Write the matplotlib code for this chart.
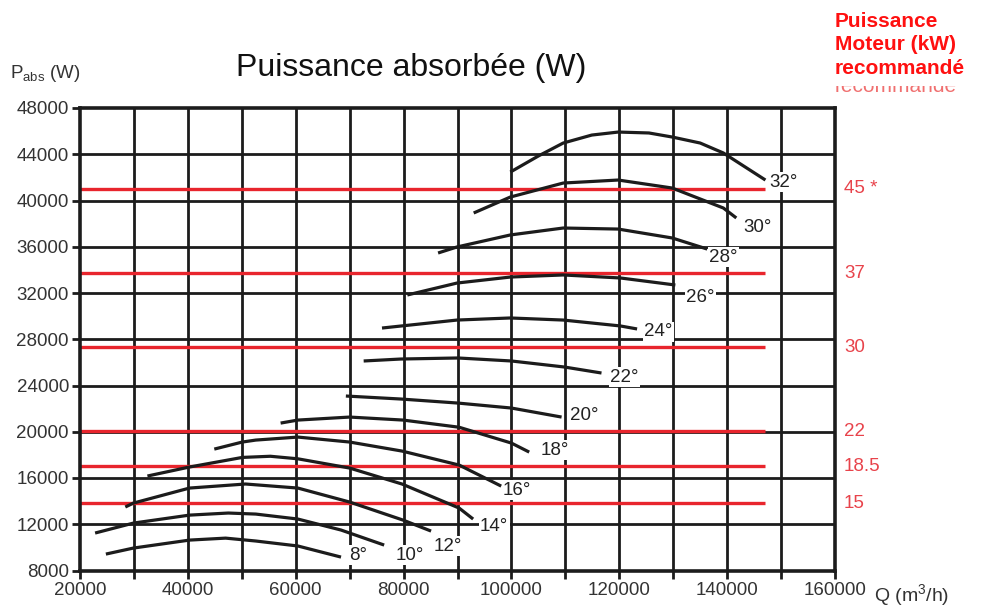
import matplotlib
matplotlib.use("Agg")
import matplotlib.pyplot as plt
from matplotlib.transforms import Bbox, TransformedBbox

# Courbes de puissance absorbée (Q en m3/h, P en W) par angle de calage
q_08 = [24800, 29900, 40300, 47000, 52600, 60400, 68400]
p_08 = [9420, 9940, 10630, 10800, 10550, 10120, 9160]
q_10 = [22800, 29900, 40300, 47500, 52600, 60400, 68400, 76400]
p_10 = [11240, 12100, 12790, 12970, 12880, 12450, 11500, 10200]
q_12 = [28400, 29900, 40300, 50700, 60400, 70000, 79900, 85100]
p_12 = [13490, 13830, 15130, 15480, 15130, 13920, 12360, 11410]
q_14 = [32500, 40300, 50100, 55300, 60400, 70000, 79700, 90300, 92900]
p_14 = [16170, 16950, 17780, 17880, 17660, 16860, 15480, 13400, 12450]
q_16 = [44900, 50100, 52600, 60400, 70000, 79700, 90300, 98100]
p_16 = [18500, 19110, 19280, 19540, 19110, 18330, 17120, 15300]
q_18 = [57200, 60400, 70000, 79900, 90300, 100000, 103300]
p_18 = [20750, 21010, 21270, 21010, 20390, 19020, 18240]
q_20 = [69300, 79500, 90100, 100000, 109300]
p_20 = [23090, 22830, 22480, 22050, 21270]
q_22 = [72600, 79500, 90100, 100000, 109800, 116700]
p_22 = [26120, 26290, 26380, 26120, 25600, 25080]
q_24 = [76000, 89900, 99800, 109600, 120200, 123300]
p_24 = [28970, 29660, 29840, 29660, 29150, 28890]
q_26 = [80700, 89900, 99800, 109600, 120200, 130400]
p_26 = [31830, 32860, 33380, 33560, 33300, 32690]
q_28 = [86400, 89900, 99800, 109600, 119800, 129800, 136300]
p_28 = [35460, 35980, 37020, 37620, 37530, 36760, 35800]
q_30 = [93000, 99800, 109600, 119800, 129800, 139300, 141700]
p_30 = [38920, 40300, 41510, 41770, 41080, 39350, 38490]
q_32 = [99800, 105000, 109600, 114900, 119800, 125500, 129800, 135000, 139300, 147100]
p_32 = [42460, 43850, 44970, 45660, 45920, 45840, 45490, 44970, 44110, 41770]

angles = ["8°", "10°", "12°", "14°", "16°", "18°", "20°",
          "22°", "24°", "26°", "28°", "30°", "32°"]

# Puissance moteur recommandée : seuils en W et libellés en kW
seuils_w = [41000, 33700, 27300, 20050, 17000, 13800]
moteurs_kw = ["45 *", "37", "30", "22", "18.5", "15"]
q_fin_seuil = 147000

x_ticks = [20000, 40000, 60000, 80000, 100000, 120000, 140000, 160000]
y_ticks = [8000, 12000, 16000, 20000, 24000, 28000, 32000, 36000, 40000, 44000, 48000]

courbes = [(q_08, p_08), (q_10, p_10), (q_12, p_12), (q_14, p_14), (q_16, p_16),
           (q_18, p_18), (q_20, p_20), (q_22, p_22), (q_24, p_24), (q_26, p_26),
           (q_28, p_28), (q_30, p_30), (q_32, p_32)]
# décalage des étiquettes (pixels) par rapport au bout de courbe
decalages = [(17, 2), (26, -10), (17, -15), (21, -7), (16, -4), (26, 2), (23, 2),
             (23, -4), (21, -3), (25, -12), (16, -8), (21, -10), (18, -2)]

POLICE = ["Liberation Sans", "DejaVu Sans"]
NOIR = "#1c1c1c"
ROUGE = "#e8252d"

fig = plt.figure(figsize=(9.85, 6.08), dpi=100)
ax = fig.add_axes([80 / 985, 1 - 570.5 / 608, 755 / 985, 462.5 / 608])

ax.set_xlim(20000, 160000)
ax.set_ylim(8000, 48000)

# quadrillage
for q in range(30000, 160000, 10000):
    ax.axvline(q, color=NOIR, lw=2.0, zorder=1)
for p in range(12000, 48000, 4000):
    ax.axhline(p, color=NOIR, lw=2.0, zorder=1)

# seuils moteur
for s, lab in zip(seuils_w, moteurs_kw):
    ax.plot([20000, q_fin_seuil], [s, s], color=ROUGE, lw=2.4, zorder=2,
            solid_capstyle="butt")
    ax.annotate(lab, xy=(1, s), xycoords=("axes fraction", "data"),
                xytext=(9, 0), textcoords="offset pixels", ha="left", va="center",
                color="#e8434b", fontsize=13.5, family=POLICE, annotation_clip=False)

# courbes
for (q, p), lab, (dx, dy) in zip(courbes, angles, decalages):
    ax.plot(q, p, color=NOIR, lw=2.3, zorder=3, solid_capstyle="butt",
            solid_joinstyle="round")
    ax.annotate(lab, xy=(q[-1], p[-1]), xytext=(dx, dy), textcoords="offset pixels",
                ha="center", va="center", fontsize=13.5, family=POLICE, color="#222222",
                bbox=dict(facecolor="white", edgecolor="none", pad=1.0), zorder=4)

for sp in ax.spines.values():
    sp.set_linewidth(2.6)
    sp.set_color(NOIR)

ax.set_xticks(range(20000, 160001, 10000))
ax.set_xticklabels([str(v) if v in x_ticks else "" for v in range(20000, 160001, 10000)])
ax.set_yticks(y_ticks)
ax.set_yticklabels([str(v) for v in y_ticks])
ax.tick_params(axis="both", direction="out", length=6, width=2, color=NOIR,
               labelsize=13.5, labelcolor="#333333", pad=2)
for t in ax.get_xticklabels() + ax.get_yticklabels():
    t.set_family(POLICE)

# textes
fig.text(411 / 985, 1 - 68 / 608, "Puissance absorbée (W)", ha="center", va="center",
         fontsize=23, family=POLICE, color="#111111")
fig.text(10 / 985, 1 - 74 / 608, r"P$_{\mathregular{abs}}$ (W)", ha="left", va="center",
         fontsize=13.5, family=POLICE, color="#333333")
fig.text(874 / 985, 1 - 596 / 608, r"Q (m$^{\mathregular{3}}$/h)", ha="left", va="center",
         fontsize=14, family=POLICE, color="#333333")
fig.text(835 / 985, 1 - 12 / 608, "Puissance\nMoteur (kW)\nrecommandé", ha="left", va="top",
         fontsize=15, fontweight="bold", color="#ff1010", linespacing=1.3,
         family=POLICE)
# ligne tronquée sous le titre rouge
t = fig.text(835 / 985, 1 - 96 / 608, "recommandé", ha="left", va="bottom",
             fontsize=15, color="#f07070", family=POLICE)
t.set_clip_box(TransformedBbox(Bbox([[0.8, 0], [1, 1 - 86 / 608]]), fig.transFigure))
t.set_clip_on(True)

fig.savefig("out.png", dpi=100)
